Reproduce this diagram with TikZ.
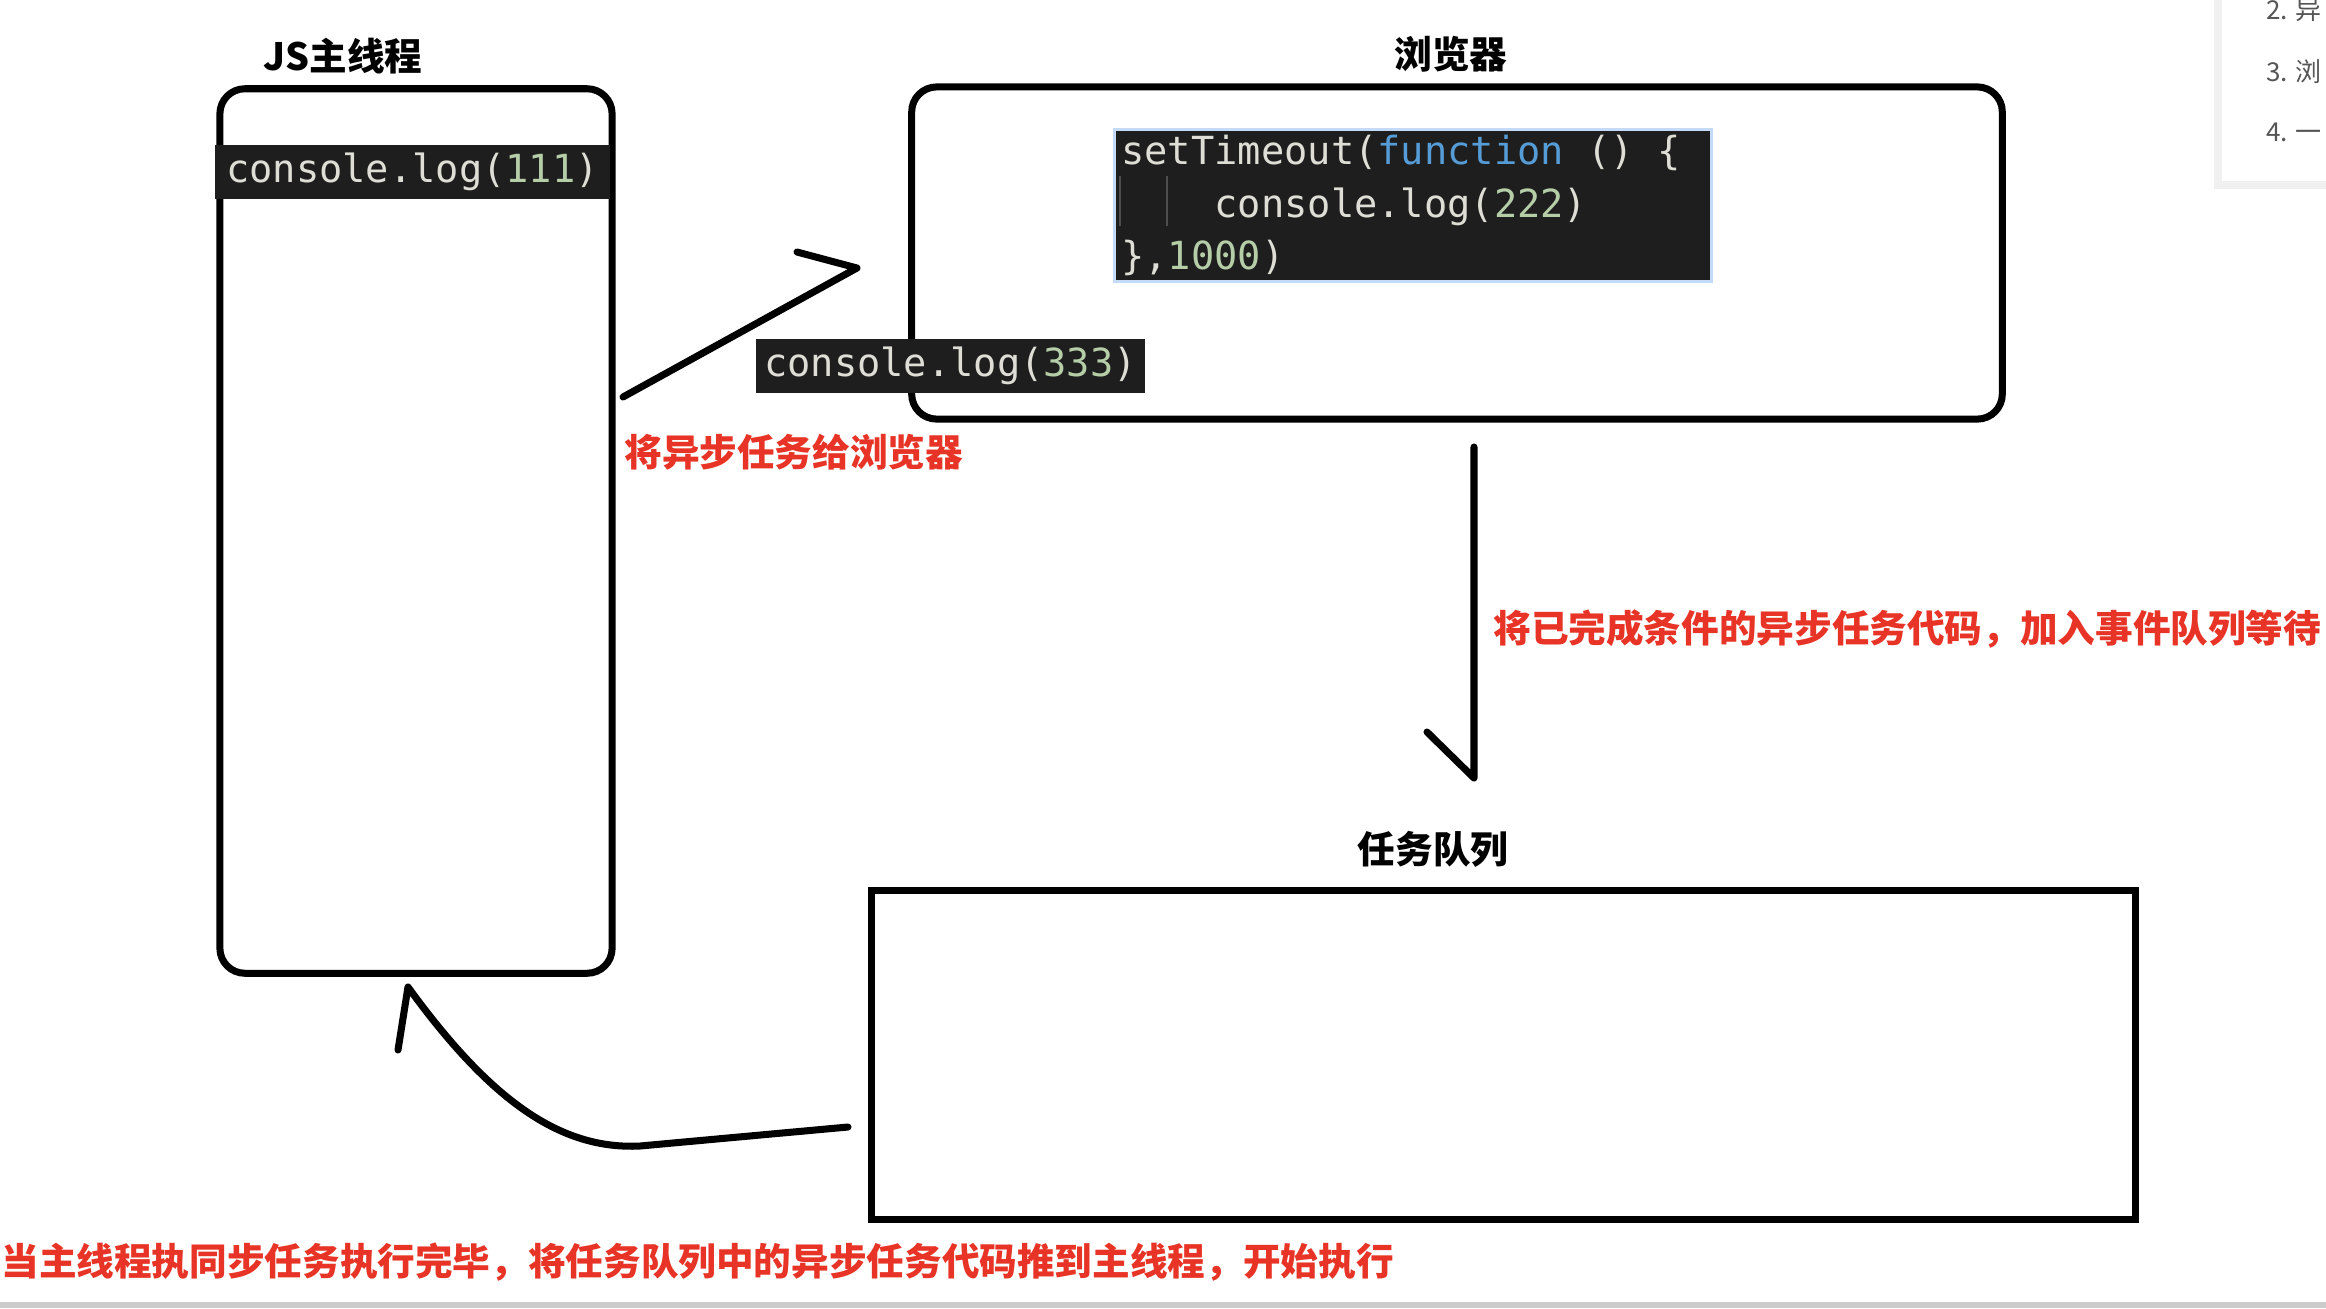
\documentclass[tikz,border=0pt]{standalone}
\usepackage{fontspec}
\usepackage{tikz}
\newfontfamily\cjk[BoldFont={Noto Sans CJK SC Black}]{Noto Sans CJK SC}
\newfontfamily\codefont{DejaVu Sans Mono}
\definecolor{notered}{RGB}{232,52,38}
\definecolor{codebg}{RGB}{30,30,30}
\definecolor{codefg}{RGB}{222,222,214}
\definecolor{codenum}{RGB}{181,206,168}
\definecolor{codekey}{RGB}{86,156,214}
\definecolor{guide}{RGB}{78,78,78}
\definecolor{glow}{RGB}{196,218,246}
\definecolor{tocgray}{RGB}{85,85,85}
\def\nm#1{\textcolor{codenum}{#1}}
\def\kw#1{\textcolor{codekey}{#1}}
\def\sp{\phantom{x}}

\begin{document}
\begin{tikzpicture}[x=0.01cm,y=-0.01cm,style=thick,
    box/.style={draw,line width=2pt,rounded corners=0.25cm},
    band/.style={fill=codebg,text=codefg,inner sep=0pt,
        font=\codefont\fontsize{11pt}{14.8pt}\selectfont},
    heading/.style={inner sep=0pt,font=\cjk\bfseries\fontsize{10.7pt}{12pt}\selectfont},
    redtext/.style={heading,text=notered},
    toctext/.style={inner sep=0pt,text=tocgray,font=\cjk\fontsize{7.4pt}{9pt}\selectfont},
    stroke/.style={line width=2pt,line cap=round,line join=round}]

    \useasboundingbox (0,0) rectangle (2326,1308);
    \fill[white] (0,0) rectangle (2326,1308);

    % JS main thread
    \node[box,minimum width=3.92cm,minimum height=8.84cm] (js) at (416,531) {};
    \node[heading] (jstitle) at (343,56) {JS主线程};
    \node[band,minimum width=3.95cm,minimum height=0.53cm] (log1) at (412.5,172) {console.log(\nm{111})};

    % browser
    \node[box,minimum width=10.9cm,minimum height=3.32cm] (web) at (1457,253) {};
    \node[heading] (webtitle) at (1451,54) {浏览器};
    \node[band,draw=glow,line width=0.8pt,anchor=north west,align=left,
        text width=5.83cm,minimum height=1.52cm,inner xsep=0.07cm] (timer) at (1113,128)
        {setTimeout(\kw{function}\sp()\sp\{\\\sp\sp\sp\sp console.log(\nm{222})\\\},\nm{1000})};
    \draw[guide,line width=0.6pt] (1120,176) -- (1120,226);
    \draw[guide,line width=0.6pt] (1167,176) -- (1167,226);
    \node[band,minimum width=3.89cm,minimum height=0.54cm] (log3) at (950.5,366) {console.log(\nm{333})};

    % task queue
    \node[draw,line width=2pt,minimum width=12.63cm,minimum height=3.28cm] (queue) at (1503.5,1055) {};
    \node[heading] (queuetitle) at (1433,849) {任务队列};

    % hand-drawn arrows
    \coordinate (give0) at (623,397);
    \coordinate (give1) at (857,268);
    \coordinate (give2) at (797,252);
    \draw[stroke] (give0) -- (give1) -- (give2);
    \coordinate (wait0) at (1474,447);
    \coordinate (wait1) at (1474,778);
    \coordinate (wait2) at (1427,732);
    \draw[stroke] (wait0) -- (wait1) -- (wait2);
    \coordinate (back0) at (848,1127);
    \coordinate (back1) at (640,1146);
    \coordinate (back2) at (408,987);
    \coordinate (back3) at (398,1050);
    \draw[stroke] (back0) -- (back1) .. controls (560,1150) and (490,1100) .. (back2) -- (back3);

    % red notes
    \node[redtext,anchor=west] (givetext) at (623,452) {将异步任务给浏览器};
    \node[redtext,anchor=west] (waittext) at (1492,629) {将已完成条件的异步任务代码，加入事件队列等待};
    \node[redtext,anchor=west] (runtext) at (0,1262) {当主线程执同步任务执行完毕，将任务队列中的异步任务代码推到主线程，开始执行};

    % side panel and page edge
    \fill[black!6] (2214,0) rectangle (2326,189);
    \fill[white] (2222,0) rectangle (2326,181);
    \node[toctext,anchor=west] (toc2) at (2265,10) {2. 异};
    \node[toctext,anchor=west] (toc3) at (2265,72) {3. 浏};
    \node[toctext,anchor=west] (toc4) at (2265,132) {4. 一};
    \draw[black!20,line width=1.5pt] (0,1305) -- (2326,1305);
\end{tikzpicture}
\end{document}
